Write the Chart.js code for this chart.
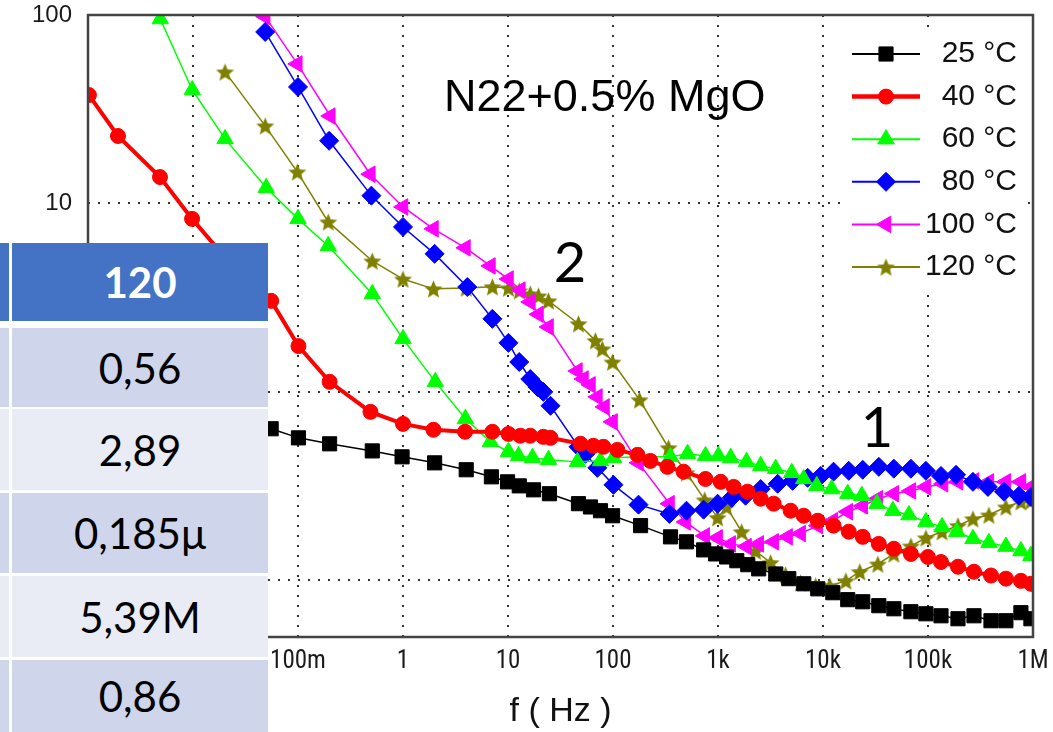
<!DOCTYPE html>
<html>
<head>
<meta charset="utf-8">
<script src="https://cdn.jsdelivr.net/npm/chart.js@4.4.0/dist/chart.umd.min.js"></script>
<style>
	html, body { margin: 0; padding: 0; background: #fff; }
	#wrap { position: relative; width: 1053px; height: 732px; overflow: hidden; }
	#chart { position: absolute; left: 0; top: 0; }
	.note { position: absolute; color: #000; line-height: 1; white-space: nowrap; }
	.title { font-family: 'Liberation Sans', Arial, sans-serif; font-size: 45px; left: 444px; top: 73px; }
	.mark { font-family: Lato, 'Open Sans', sans-serif; font-size: 56px; width: 60px; text-align: center; }
	.under { position: absolute; left: 0; top: 243px; width: 268px; height: 489px; background: #fff; }
	.cell { position: absolute; display: flex; align-items: center; justify-content: center;
		font-family: Lato, 'Open Sans', sans-serif; font-size: 42px; color: #000; }
	.head { background: #4472c4; color: #fff; font-weight: bold; }
	.dark { background: #cfd5ea; }
	.light { background: #e9ebf5; }
</style>
</head>
<body>
<div id="wrap">
	<canvas id="chart" width="1053" height="732"></canvas>

	<div class="note title">N22+0.5% MgO</div>
	<div class="note mark" style="left:540px; top:233px;">2</div>
	<div class="note mark" style="left:847px; top:398px;">1</div>

	<!-- table pasted over the left part of the plot -->
	<div class="under"></div>
	<div class="cell head" style="left:0; top:243px; width:9px; height:78px;"></div>
	<div class="cell head" style="left:12px; top:243px; width:256px; height:78px;">120</div>
	<div class="cell dark" style="left:0; top:328px; width:9px; height:79px;"></div>
	<div class="cell dark" style="left:12px; top:328px; width:256px; height:79px;">0,56</div>
	<div class="cell light" style="left:0; top:409px; width:9px; height:81px;"></div>
	<div class="cell light" style="left:12px; top:409px; width:256px; height:81px;">2,89</div>
	<div class="cell dark" style="left:0; top:493px; width:9px; height:80px;"></div>
	<div class="cell dark" style="left:12px; top:493px; width:256px; height:80px;">0,185μ</div>
	<div class="cell light" style="left:0; top:576px; width:9px; height:81px;"></div>
	<div class="cell light" style="left:12px; top:576px; width:256px; height:81px;">5,39M</div>
	<div class="cell dark" style="left:0; top:660px; width:9px; height:72px;"></div>
	<div class="cell dark" style="left:12px; top:660px; width:256px; height:72px;">0,86</div>
</div>

<script>
// frequency (Hz) and |Z| readings for each temperature
const f25 = [0.0555, 0.101, 0.20, 0.51, 0.98, 2.0, 4.0, 6.95, 9.9, 12.8, 17.5, 24.8, 46.9, 61, 76, 99, 183, 353, 501, 730, 949, 1208, 1510, 1920, 2440, 3550, 4720, 6560, 8920, 12400, 17200, 23900, 34000, 47300, 68700, 95500, 133000, 193000, 274000, 398000, 552000, 767000, 955000];
const z25 = [0.637, 0.570, 0.530, 0.486, 0.452, 0.420, 0.386, 0.354, 0.333, 0.317, 0.302, 0.288, 0.255, 0.245, 0.234, 0.220, 0.195, 0.170, 0.160, 0.145, 0.138, 0.133, 0.127, 0.121, 0.115, 0.108, 0.102, 0.0958, 0.0901, 0.0859, 0.0789, 0.0769, 0.0733, 0.0706, 0.0681, 0.0664, 0.0648, 0.0625, 0.0648, 0.061, 0.061, 0.0673, 0.0625];

const f40 = [0.00102, 0.00193, 0.00485, 0.0098, 0.0216, 0.0555, 0.101, 0.20, 0.49, 1.0, 1.95, 3.9, 7.1, 10.1, 13.1, 16.3, 21.7, 25.4, 49, 65, 81, 110, 171, 227, 330, 470, 760, 1060, 1410, 1910, 2550, 3390, 4920, 6550, 8920, 12600, 17600, 23900, 34000, 47300, 68700, 99800, 133000, 193000, 274000, 398000, 552000, 767000, 955000];
const z40 = [37.6, 22.8, 13.8, 8.28, 4.95, 3.04, 1.75, 1.13, 0.783, 0.676, 0.629, 0.614, 0.614, 0.598, 0.585, 0.585, 0.577, 0.570, 0.530, 0.517, 0.511, 0.492, 0.463, 0.430, 0.400, 0.377, 0.345, 0.333, 0.313, 0.295, 0.271, 0.255, 0.234, 0.220, 0.207, 0.195, 0.181, 0.170, 0.156, 0.147, 0.138, 0.133, 0.125, 0.118, 0.111, 0.106, 0.102, 0.0993, 0.0958];

const f60 = [0.00488, 0.00984, 0.0202, 0.0498, 0.1, 0.194, 0.51, 1.0, 2.03, 3.93, 6.8, 10.1, 12.6, 17.1, 24.3, 45.8, 76, 101, 183, 353, 513, 760, 1010, 1320, 1870, 2550, 3540, 5040, 6550, 8710, 12100, 17200, 23400, 32600, 46300, 65800, 95500, 136000, 188000, 268000, 380000, 552000, 767000, 955000];
const z60 = [95.2, 40.0, 22.0, 12.1, 8.28, 5.95, 3.31, 1.91, 1.13, 0.719, 0.543, 0.481, 0.457, 0.447, 0.436, 0.425, 0.430, 0.447, 0.452, 0.452, 0.469, 0.457, 0.457, 0.447, 0.425, 0.405, 0.391, 0.372, 0.345, 0.317, 0.305, 0.288, 0.281, 0.255, 0.234, 0.222, 0.204, 0.192, 0.181, 0.166, 0.158, 0.151, 0.143, 0.135];

const f80 = [0.0487, 0.1, 0.198, 0.5, 1.0, 2.0, 4.1, 7.1, 10.1, 12.8, 16.3, 19.1, 21.7, 25.4, 46.9, 54.7, 71, 101, 175, 345, 501, 730, 991, 1350, 1830, 2550, 3700, 5140, 7140, 9500, 12600, 17600, 23900, 34000, 47300, 68700, 95500, 133000, 185000, 268000, 372000, 530000, 736000, 955000];
const z80 = [81.3, 41.5, 21.5, 11.0, 7.5, 5.4, 3.6, 2.44, 1.82, 1.44, 1.17, 1.06, 1.0, 0.843, 0.511, 0.469, 0.395, 0.321, 0.252, 0.225, 0.234, 0.237, 0.255, 0.274, 0.281, 0.305, 0.325, 0.337, 0.350, 0.358, 0.377, 0.381, 0.386, 0.400, 0.391, 0.391, 0.381, 0.358, 0.363, 0.333, 0.313, 0.295, 0.281, 0.277];

const f100 = [0.0487, 0.0985, 0.203, 0.488, 1.0, 1.95, 3.93, 6.8, 10.1, 13.1, 16.3, 19.5, 24.3, 45.8, 52.3, 61, 71, 83, 99, 175, 345, 491, 747, 991, 1320, 1870, 2440, 3390, 4600, 6120, 8920, 12400, 17200, 23900, 33300, 47300, 68700, 95500, 139000, 193000, 274000, 380000, 552000, 767000, 955000];
const z100 = [98, 55, 29.1, 14.3, 9.58, 7.33, 5.81, 4.66, 3.97, 3.47, 3.0, 2.58, 2.21, 1.29, 1.17, 1.09, 0.94, 0.832, 0.693, 0.420, 0.255, 0.204, 0.172, 0.168, 0.156, 0.151, 0.156, 0.160, 0.170, 0.177, 0.195, 0.207, 0.231, 0.248, 0.271, 0.288, 0.298, 0.313, 0.325, 0.333, 0.337, 0.333, 0.333, 0.333, 0.313];

const f120 = [0.0202, 0.0487, 0.0985, 0.194, 0.51, 1.0, 1.95, 4.0, 7.1, 10.1, 12.8, 16.3, 19.5, 24.3, 46.9, 68, 79, 99, 179, 338, 501, 747, 991, 1208, 1680, 2280, 3170, 4400, 6120, 8510, 11600, 16500, 22400, 33300, 47300, 68700, 95500, 136000, 193000, 268000, 380000, 552000, 767000, 955000];
const z120 = [49.9, 25.8, 14.7, 7.98, 4.95, 3.97, 3.52, 3.56, 3.61, 3.56, 3.44, 3.31, 3.23, 3.04, 2.30, 1.87, 1.69, 1.44, 0.907, 0.505, 0.372, 0.267, 0.215, 0.245, 0.181, 0.143, 0.124, 0.107, 0.097, 0.0935, 0.0935, 0.0993, 0.111, 0.122, 0.138, 0.152, 0.168, 0.181, 0.195, 0.212, 0.222, 0.245, 0.261, 0.264];

const seriesLabels = ['25 °C', '40 °C', '60 °C', '80 °C', '100 °C', '120 °C'];

const xTickValues = [1e-3, 1e-2, 0.1, 1, 10, 100, 1e3, 1e4, 1e5, 1e6];
const xTickLabels = ['1m', '10m', '100m', '1', '10', '100', '1k', '10k', '100k', '1M'];
const yTickValues = [0.1, 1, 10, 100];
const yTickLabels = ['100m', '1', '10', '100'];

const FONT = "'Liberation Sans', Arial, sans-serif";
const NARROW = "'Roboto Condensed', 'Liberation Sans', sans-serif";

function makeStar(color, size) {
	const c = document.createElement('canvas');
	c.width = c.height = size;
	const g = c.getContext('2d');
	const r = size / 2, ri = r * 0.45;
	g.beginPath();
	for (let i = 0; i < 10; i++) {
		const a = -Math.PI / 2 + i * Math.PI / 5;
		const rr = i % 2 ? ri : r;
		g.lineTo(r + rr * Math.cos(a), r + 1 + rr * Math.sin(a));
	}
	g.closePath();
	g.fillStyle = color;
	g.fill();
	return c;
}

const looks = [
	{ color: '#000000', style: 'rect', radius: 10, rotation: 0, line: 1.5 },
	{ color: '#ff0000', style: 'circle', radius: 7.5, rotation: 0, line: 4 },
	{ color: '#00ff00', style: 'triangle', radius: 9.5, rotation: 0, line: 1.5 },
	{ color: '#0000ff', style: 'rectRot', radius: 9.5, rotation: 0, line: 1.5 },
	{ color: '#ff00ff', style: 'triangle', radius: 9.5, rotation: -90, line: 1.5 },
	{ color: '#808000', style: makeStar('#808000', 19), radius: 9, rotation: 0, line: 1.5 }
];

const pairs = [[f25, z25], [f40, z40], [f60, z60], [f80, z80], [f100, z100], [f120, z120]];

const datasets = pairs.map(([fs, zs], k) => ({
	label: seriesLabels[k],
	data: fs.map((f, i) => ({ x: f, y: zs[i] })),
	borderColor: looks[k].color,
	backgroundColor: looks[k].color,
	borderWidth: looks[k].line,
	pointStyle: looks[k].style,
	pointRotation: looks[k].rotation,
	pointRadius: looks[k].radius,
	pointBorderWidth: 1,
	pointBorderColor: looks[k].color,
	pointBackgroundColor: looks[k].color,
	tension: 0
}));

// white legend box, legend rows and the frame round the plot
const boxAndFrame = {
	id: 'boxAndFrame',
	afterDatasetsDraw(chart) {
		const { ctx, chartArea: a } = chart;
		ctx.save();
		const bx = a.right - 193;
		ctx.fillStyle = '#fff';
		ctx.fillRect(bx, a.top + 13, 186, 262);

		for (let k = 0; k < looks.length; k++) {
			const y = a.top + 39 + k * 42.6;
			const lk = looks[k];
			ctx.strokeStyle = lk.color;
			ctx.fillStyle = lk.color;
			ctx.lineWidth = lk.line + 0.5;
			ctx.beginPath();
			ctx.moveTo(bx + 12, y);
			ctx.lineTo(bx + 80, y);
			ctx.stroke();
			ctx.lineWidth = 1;
			Chart.helpers.drawPoint(ctx, {
				pointStyle: lk.style, rotation: lk.rotation, radius: lk.radius, borderWidth: 1
			}, bx + 46, y);
			ctx.fillStyle = '#111';
			ctx.font = '30px ' + FONT;
			ctx.textAlign = 'right';
			ctx.textBaseline = 'middle';
			ctx.fillText(seriesLabels[k], a.right - 16, y);
		}

		ctx.strokeStyle = '#444';
		ctx.lineWidth = 2.5;
		ctx.strokeRect(a.left, a.top, a.right - a.left, a.bottom - a.top);
		ctx.restore();
	}
};

new Chart(document.getElementById('chart'), {
	type: 'line',
	data: { datasets: datasets },
	options: {
		responsive: false,
		animation: false,
		devicePixelRatio: 1,
		layout: { padding: { top: 15, right: 20, left: 0, bottom: 0 } },
		plugins: { legend: { display: false }, tooltip: { enabled: false } },
		scales: {
			x: {
				type: 'logarithmic',
				min: 1e-3,
				max: 1e6,
				afterFit(s) { s.height = 95; s.paddingLeft = 0; s.paddingRight = 0; },
				afterBuildTicks(s) { s.ticks = xTickValues.map(v => ({ value: v })); },
				ticks: {
					callback: (v, i) => xTickLabels[i],
					font: { family: NARROW, size: 25 },
					color: '#1a1a1a',
					padding: 10,
					maxRotation: 0,
					autoSkip: false
				},
				grid: { color: '#333', lineWidth: 2, drawTicks: false },
				border: { display: false, dash: [2, 8] },
				title: {
					display: true,
					text: 'f ( Hz )',
					font: { family: FONT, size: 34 },
					color: '#111',
					padding: { top: 0, bottom: 0 }
				}
			},
			y: {
				type: 'logarithmic',
				min: 0.05,
				max: 100,
				afterFit(s) { s.width = 88; s.paddingTop = 0; s.paddingBottom = 0; },
				afterBuildTicks(s) { s.ticks = yTickValues.map(v => ({ value: v })); },
				ticks: {
					callback: (v, i) => yTickLabels[i],
					font: { family: FONT, size: 24 },
					color: '#1a1a1a',
					padding: 16,
					autoSkip: false
				},
				grid: { color: '#333', lineWidth: 2, drawTicks: false },
				border: { display: false, dash: [2, 8] }
			}
		}
	},
	plugins: [boxAndFrame]
});
</script>
</body>
</html>
